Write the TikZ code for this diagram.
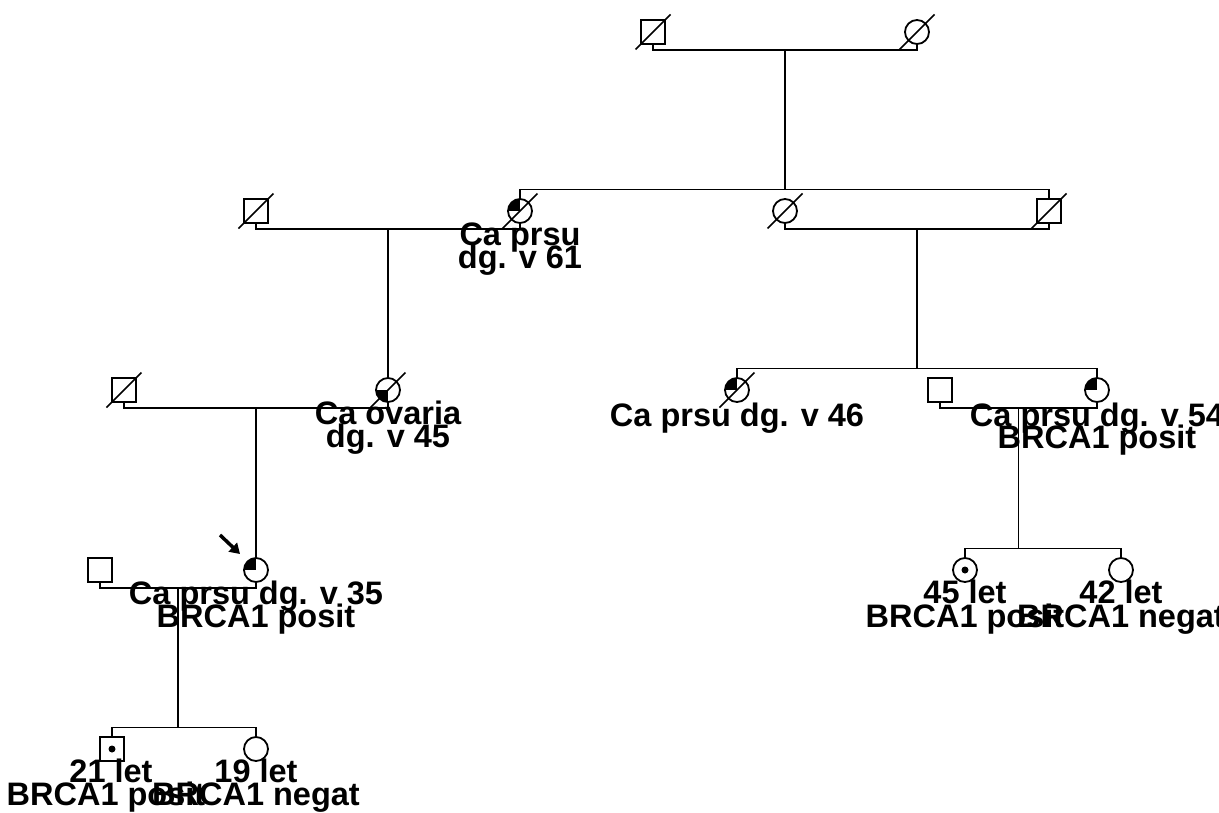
\documentclass[tikz,border=0pt]{standalone}
\usepackage{fontspec}
\setmainfont{Liberation Sans}
\usetikzlibrary{calc,arrows.meta}
\begin{document}
\begin{tikzpicture}[x=1pt,y=-1pt,line width=1.8pt,
  sym/.style={draw,line width=1.8pt,inner sep=0pt,outer sep=0pt,minimum size=24pt},
  male/.style={sym,rectangle},
  female/.style={sym,circle},
  breast/.style={path picture={\fill[black] (path picture bounding box.center) rectangle (path picture bounding box.north west);}},
  ovary/.style={path picture={\fill[black] (path picture bounding box.center) rectangle (path picture bounding box.south west);}},
  carrier/.style={path picture={\fill[black] (path picture bounding box.center) circle[radius=3.5pt];}},
  lbl/.style={font=\fontsize{32.5}{23}\selectfont\bfseries,anchor=base,inner sep=0pt},
  slash/.style={line width=1.6pt},
  probarrow/.style={line width=3.5pt,-{Triangle[length=10pt,width=12pt]}}
]
\useasboundingbox (0,0) rectangle (1219,812);

% symbols
\node[male] (gf) at (653,32) {};
\node[female] (gm) at (917,32) {};
\node[male] (a) at (256,211) {};
\node[female,breast] (b) at (520,211) {};
\node[female] (c) at (785,211) {};
\node[male] (d) at (1049,211) {};
\node[male] (e) at (124,390) {};
\node[female,ovary] (f) at (388,390) {};
\node[female,breast] (h) at (737,390) {};
\node[male] (i) at (940,390) {};
\node[female,breast] (j) at (1097,390) {};
\node[male] (k) at (100,570) {};
\node[female,breast] (g) at (256,570) {};
\node[female,carrier] (l) at (965,570) {};
\node[female] (m) at (1121,570) {};
\node[male,carrier] (n) at (112,749) {};
\node[female] (o) at (256,749) {};

% deceased slashes
\foreach \s in {gf,gm,a,b,c,d,e,f,h}
  \draw[slash] ($(\s.center)+(-17.5,17.5)$) -- ($(\s.center)+(17.5,-17.5)$);

% marriages
\draw (gf.south) -- ++(0,6) -| (gm.south);
\draw (a.south) -- ++(0,6) -| (b.south);
\draw (c.south) -- ++(0,6) -| (d.south);
\draw (e.south) -- ++(0,6) -| (f.south);
\draw (i.south) -- ++(0,6) -| (j.south);
\draw (k.south) -- ++(0,6) -| (g.south);

\coordinate (m1) at ($(gf.south)!0.5!(gm.south)+(0,6)$);
\coordinate (m2) at ($(a.south)!0.5!(b.south)+(0,6)$);
\coordinate (m3) at ($(c.south)!0.5!(d.south)+(0,6)$);
\coordinate (m4) at ($(e.south)!0.5!(f.south)+(0,6)$);
\coordinate (m5) at ($(i.south)!0.5!(j.south)+(0,6)$);
\coordinate (m6) at ($(k.south)!0.5!(g.south)+(0,6)$);

% sibships
\coordinate (s1) at ($(b.north)+(0,-9.5)$);
\draw (b.north) -- (s1) -| (d.north);
\draw (m1) -- (m1 |- s1);

\draw (m2) -- (m2 |- f.north);

\coordinate (s3) at ($(h.north)+(0,-9.5)$);
\draw (h.north) -- (s3) -| (j.north);
\draw (m3) -- (m3 |- s3);

\draw (m4) -- (m4 |- g.north);

\coordinate (s5) at ($(l.north)+(0,-9.5)$);
\draw (l.north) -- (s5) -| (m.north);
\draw (m5) -- (m5 |- s5);

\coordinate (s6) at ($(n.north)+(0,-9.5)$);
\draw (n.north) -- (s6) -| (o.north);
\draw (m6) -- (m6 |- s6);

% proband arrow
\coordinate (pa) at ($(g.center)+(-36,-35)$);
\coordinate (pb) at ($(g.center)+(-16,-16)$);
\draw[probarrow] (pa) -- (pb);

% labels
\node[lbl] (tb1) at (520,245) {Ca prsu};
\node[lbl] (tb2) at (520,268) {dg. v 61};
\node[lbl] (tf1) at (388,424) {Ca ovaria};
\node[lbl] (tf2) at (388,447) {dg. v 45};
\node[lbl] (th1) at (737,426) {Ca prsu dg. v 46};
\node[lbl] (tj1) at (1097,426) {Ca prsu dg. v 54};
\node[lbl] (tj2) at (1097,448) {BRCA1 posit};
\node[lbl] (tg1) at (256,604) {Ca prsu dg. v 35};
\node[lbl] (tg2) at (256,627) {BRCA1 posit};
\node[lbl] (tl1) at (965,603) {45 let};
\node[lbl] (tl2) at (965,627) {BRCA1 posit};
\node[lbl] (tm1) at (1121,603) {42 let};
\node[lbl] (tm2) at (1121,627) {BRCA1 negat};
\node[lbl] (tn1) at (111,782) {21 let};
\node[lbl] (tn2) at (106,805) {BRCA1 posit};
\node[lbl] (to1) at (256,782) {19 let};
\node[lbl] (to2) at (256,805) {BRCA1 negat};
\end{tikzpicture}
\end{document}
